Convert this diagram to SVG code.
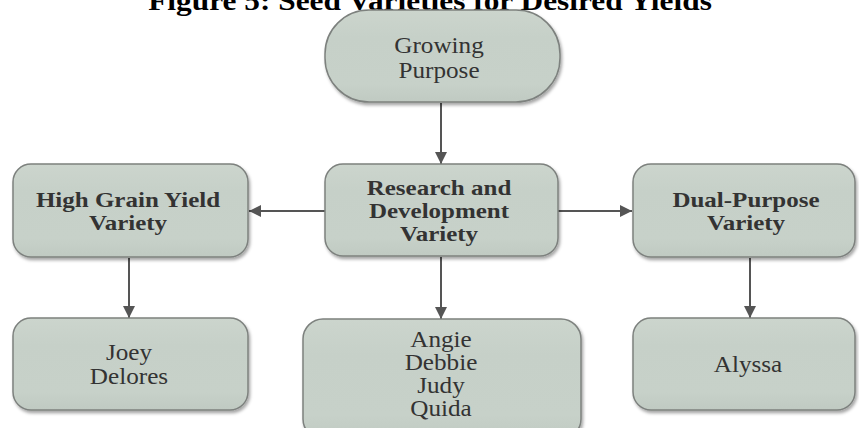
<svg xmlns="http://www.w3.org/2000/svg" width="859" height="428" viewBox="0 0 859 428">
<style>
.box{fill:url(#g);stroke:#7d817e;stroke-width:1.5;filter:url(#sh)}
.t{font-family:"Liberation Serif","Times New Roman",serif;font-size:22.5px;fill:#333;text-anchor:middle}
.b{font-family:"Liberation Serif","Times New Roman",serif;font-size:21px;font-weight:bold;fill:#333;text-anchor:middle}
.title{font-family:"Liberation Serif","Times New Roman",serif;font-size:28px;font-weight:bold;fill:#000;text-anchor:middle}
.c{stroke:#555;stroke-width:2;fill:none;marker-end:url(#ah)}
</style>
<defs>
<linearGradient id="g" x1="0" y1="0" x2="0" y2="1">
<stop offset="0" stop-color="#ccd5cd"/>
<stop offset="0.3" stop-color="#c6d0c8"/>
<stop offset="0.8" stop-color="#c7d1c9"/>
<stop offset="1" stop-color="#c0cac2"/>
</linearGradient>
<filter id="sh" x="-10%" y="-10%" width="125%" height="130%">
<feDropShadow dx="1.5" dy="2.5" stdDeviation="1.8" flood-color="#000" flood-opacity="0.35"/>
</filter>
<marker id="ah" viewBox="0 0 10 10" refX="10" refY="5" markerWidth="6" markerHeight="6" markerUnits="strokeWidth" orient="auto">
<path d="M0,0 L10,5 L0,10 Z" fill="#555"/>
</marker>
</defs>
<rect width="859" height="428" fill="#fff"/>
<g transform="translate(430 0) scale(1.12 1)">
<text class="title" x="0" y="10">Figure 5: Seed Varieties for Desired Yields</text>
</g>
<g id="connectors">
<line class="c" x1="441" y1="103" x2="441" y2="164"/>
<line class="c" x1="325" y1="211" x2="249" y2="211"/>
<line class="c" x1="558" y1="211" x2="632" y2="211"/>
<line class="c" x1="129" y1="258" x2="129" y2="318"/>
<line class="c" x1="441" y1="257" x2="441" y2="319"/>
<line class="c" x1="750" y1="258" x2="750" y2="318"/>
</g>
<g id="growing">
<rect class="box" x="325" y="10" width="235" height="92" rx="44" ry="44"/>
<g transform="translate(439 0) scale(1.12 1)">
<text class="t" x="0" y="53">Growing</text>
<text class="t" x="0" y="78">Purpose</text>
</g>
</g>
<g id="highgrain">
<rect class="box" x="13" y="164" width="235" height="93" rx="18" ry="18"/>
<g transform="translate(128 0) scale(1.19 1)">
<text class="b" x="0" y="207">High Grain Yield</text>
<text class="b" x="0" y="230">Variety</text>
</g>
</g>
<g id="research">
<rect class="box" x="325" y="164" width="233" height="92" rx="18" ry="18"/>
<g transform="translate(439 0) scale(1.19 1)">
<text class="b" x="0" y="195">Research and</text>
<text class="b" x="0" y="218">Development</text>
<text class="b" x="0" y="241">Variety</text>
</g>
</g>
<g id="dual">
<rect class="box" x="633" y="164" width="222" height="93" rx="18" ry="18"/>
<g transform="translate(746 0) scale(1.19 1)">
<text class="b" x="0" y="207">Dual-Purpose</text>
<text class="b" x="0" y="230">Variety</text>
</g>
</g>
<g id="joey">
<rect class="box" x="13" y="318" width="235" height="92" rx="18" ry="18"/>
<g transform="translate(129 0) scale(1.12 1)">
<text class="t" x="0" y="360">Joey</text>
<text class="t" x="0" y="384">Delores</text>
</g>
</g>
<g id="angie">
<rect class="box" x="303" y="319" width="278" height="120" rx="20" ry="20"/>
<g transform="translate(441 0) scale(1.12 1)">
<text class="t" x="0" y="347">Angie</text>
<text class="t" x="0" y="370">Debbie</text>
<text class="t" x="0" y="393">Judy</text>
<text class="t" x="0" y="416">Quida</text>
</g>
</g>
<g id="alyssa">
<rect class="box" x="633" y="318" width="222" height="92" rx="18" ry="18"/>
<g transform="translate(748 0) scale(1.12 1)">
<text class="t" x="0" y="372">Alyssa</text>
</g>
</g>
</svg>
